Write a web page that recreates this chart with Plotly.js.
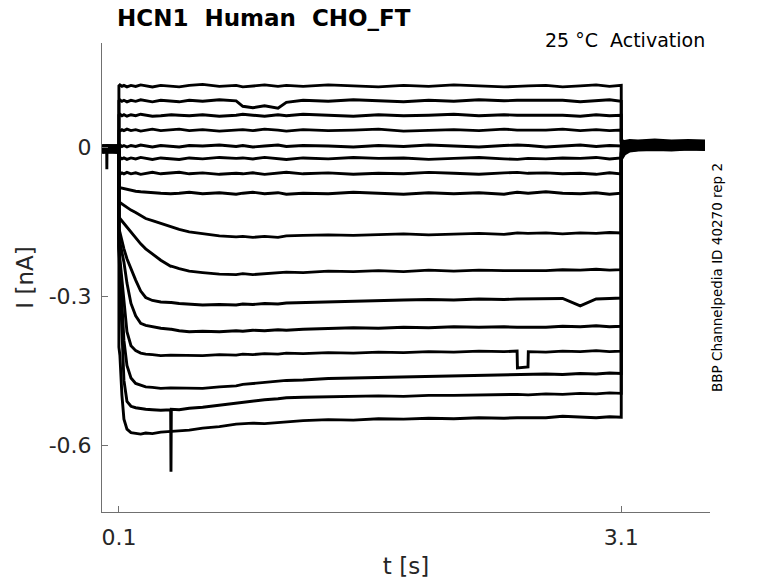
<!DOCTYPE html>
<html>
<head>
<meta charset="utf-8">
<script src="https://cdn.plot.ly/plotly-3.0.1.min.js"></script>
<style>html,body{margin:0;padding:0;background:#fff}#chart{width:778px;height:583px}</style>
</head>
<body>
<div id="chart"></div>
<script>
// time samples [s]: holding before the step, the step, and the tail after it
const tPre  = [0, 0.027, 0.028, 0.029, 0.1];
const tStep = [0.1, 0.106, 0.118, 0.13, 0.148, 0.172, 0.2, 0.23, 0.26, 0.3,
               0.35, 0.409, 0.411, 0.413, 0.46, 0.52, 0.6, 0.7, 0.8, 0.84,
               0.9, 0.97, 1.05, 1.1, 1.2, 1.35, 1.5, 1.65, 1.8, 1.95,
               2.1, 2.25, 2.4, 2.478, 2.48, 2.543, 2.545, 2.65, 2.75, 2.855,
               2.95, 3.03, 3.1];
const tTail = [3.1, 3.105, 3.12, 3.15, 3.2, 3.3, 3.4, 3.5, 3.6];

// current [nA] of each sweep: pre (5) | step (43) | tail (9)
const sweep01 = [0.002,0.003,0.002,0.003,0.002,
  0.123,0.125,0.122,0.124,0.121,0.124,0.122,0.125,0.123,0.121,
  0.124,0.122,0.122,0.122,0.121,0.124,0.126,0.122,0.124,0.121,
  0.123,0.125,0.122,0.124,0.122,0.125,0.123,0.121,0.124,0.122,
  0.125,0.123,0.121,0.122,0.122,0.123,0.123,0.124,0.121,0.123,
  0.125,0.122,0.124,
  0.012,0.013,0.011,0.013,0.012,0.014,0.012,0.013,0.012];
const sweep02 = [0.001,0.002,0.001,0.002,0.001,
  0.093,0.095,0.092,0.094,0.091,0.094,0.092,0.095,0.093,0.091,
  0.094,0.092,0.092,0.092,0.091,0.094,0.092,0.095,0.093,0.082,
  0.079,0.083,0.078,0.090,0.094,0.092,0.095,0.093,0.091,0.094,
  0.092,0.095,0.093,0.094,0.094,0.093,0.093,0.093,0.094,0.091,
  0.093,0.095,0.092,
  0.010,0.011,0.009,0.011,0.010,0.012,0.010,0.011,0.010];
const sweep03 = [0.000,0.001,0.000,0.001,0.000,
  0.064,0.066,0.063,0.065,0.062,0.065,0.063,0.066,0.064,0.062,
  0.063,0.065,0.065,0.065,0.064,0.063,0.065,0.062,0.064,0.066,
  0.064,0.062,0.065,0.063,0.066,0.064,0.062,0.065,0.063,0.064,
  0.066,0.063,0.065,0.064,0.064,0.065,0.065,0.065,0.064,0.062,
  0.065,0.063,0.064,
  0.008,0.009,0.007,0.009,0.008,0.010,0.008,0.009,0.008];
const sweep04 = [-0.001,0.000,-0.001,0.000,-0.001,
  0.034,0.032,0.035,0.033,0.036,0.033,0.035,0.032,0.034,0.036,
  0.033,0.035,0.035,0.035,0.036,0.033,0.035,0.032,0.034,0.035,
  0.033,0.036,0.034,0.032,0.035,0.033,0.034,0.036,0.032,0.034,
  0.035,0.033,0.036,0.034,0.034,0.035,0.035,0.034,0.036,0.033,
  0.035,0.033,0.034,
  0.006,0.007,0.005,0.007,0.006,0.008,0.006,0.007,0.006];
const sweep05 = [-0.002,-0.001,-0.045,-0.001,-0.002,
  0.002,0.004,0.001,0.003,0.000,0.003,0.001,0.004,0.002,0.000,
  0.003,0.001,0.001,0.001,0.000,0.003,0.002,0.004,0.001,0.003,
  0.000,0.002,0.004,0.001,0.003,0.002,0.000,0.003,0.001,0.004,
  0.002,0.000,0.003,0.004,0.004,0.003,0.003,0.000,0.002,0.004,
  0.001,0.003,0.002,
  0.004,0.005,0.003,0.005,0.004,0.006,0.004,0.005,0.004];
const sweep06 = [-0.003,-0.002,-0.003,-0.002,-0.003,
  -0.023,-0.021,-0.024,-0.022,-0.025,-0.022,-0.024,-0.021,-0.023,-0.025,
  -0.022,-0.024,-0.024,-0.024,-0.025,-0.022,-0.024,-0.021,-0.023,-0.022,
  -0.024,-0.021,-0.023,-0.025,-0.022,-0.024,-0.021,-0.023,-0.022,-0.025,
  -0.023,-0.021,-0.024,-0.025,-0.025,-0.023,-0.023,-0.024,-0.022,-0.023,
  -0.021,-0.024,-0.022,
  0.001,0.002,0.000,0.002,0.001,0.003,0.001,0.002,0.001];
const sweep07 = [-0.004,-0.003,-0.004,-0.003,-0.004,
  -0.053,-0.055,-0.052,-0.054,-0.051,-0.054,-0.052,-0.055,-0.053,-0.051,
  -0.054,-0.052,-0.052,-0.052,-0.051,-0.054,-0.052,-0.055,-0.053,-0.054,
  -0.052,-0.055,-0.053,-0.051,-0.054,-0.052,-0.055,-0.053,-0.054,-0.051,
  -0.053,-0.055,-0.052,-0.051,-0.051,-0.053,-0.053,-0.052,-0.054,-0.053,
  -0.055,-0.052,-0.054,
  -0.001,0.000,-0.002,0.000,-0.001,0.001,-0.001,0.000,-0.001];
const sweep08 = [-0.005,-0.004,-0.005,-0.004,-0.005,
  -0.080,-0.082,-0.083,-0.084,-0.086,-0.087,-0.089,-0.090,-0.091,-0.092,
  -0.093,-0.094,-0.094,-0.094,-0.093,-0.091,-0.094,-0.092,-0.095,-0.093,
  -0.091,-0.094,-0.092,-0.095,-0.093,-0.094,-0.091,-0.093,-0.095,-0.092,
  -0.094,-0.092,-0.095,-0.091,-0.091,-0.093,-0.093,-0.090,-0.093,-0.094,
  -0.092,-0.095,-0.093,
  -0.004,-0.003,-0.005,-0.003,-0.004,-0.002,-0.004,-0.003,-0.004];
const sweep09 = [-0.006,-0.005,-0.006,-0.005,-0.006,
  -0.111,-0.112,-0.115,-0.118,-0.122,-0.127,-0.132,-0.138,-0.144,-0.148,
  -0.154,-0.161,-0.161,-0.161,-0.166,-0.171,-0.175,-0.179,-0.181,-0.180,
  -0.182,-0.180,-0.182,-0.179,-0.178,-0.177,-0.178,-0.176,-0.175,-0.177,
  -0.175,-0.174,-0.176,-0.173,-0.173,-0.174,-0.174,-0.173,-0.175,-0.173,
  -0.174,-0.172,-0.173,
  -0.010,-0.008,-0.005,-0.002,0.000,0.002,0.001,0.003,0.002];
const sweep10 = [-0.007,-0.006,-0.007,-0.006,-0.007,
  -0.141,-0.144,-0.149,-0.154,-0.161,-0.170,-0.182,-0.195,-0.205,-0.216,
  -0.228,-0.240,-0.240,-0.240,-0.245,-0.250,-0.253,-0.256,-0.257,-0.255,
  -0.257,-0.255,-0.254,-0.252,-0.253,-0.250,-0.251,-0.249,-0.251,-0.248,
  -0.250,-0.248,-0.249,-0.249,-0.249,-0.248,-0.248,-0.249,-0.247,-0.248,
  -0.246,-0.248,-0.247,
  -0.012,-0.010,-0.006,-0.003,-0.001,0.001,0.000,0.002,0.001];
const sweep11 = [-0.008,-0.007,-0.008,-0.007,-0.008,
  -0.165,-0.172,-0.190,-0.205,-0.225,-0.246,-0.268,-0.290,-0.303,-0.309,
  -0.312,-0.313,-0.313,-0.313,-0.315,-0.316,-0.318,-0.317,-0.318,-0.316,
  -0.317,-0.315,-0.316,-0.314,-0.313,-0.311,-0.310,-0.309,-0.308,-0.307,
  -0.308,-0.306,-0.307,-0.306,-0.306,-0.305,-0.305,-0.306,-0.305,-0.320,
  -0.306,-0.305,-0.304,
  -0.014,-0.012,-0.007,-0.004,-0.002,0.000,-0.001,0.001,0.000];
const sweep12 = [-0.009,-0.008,-0.009,-0.008,-0.009,
  -0.185,-0.192,-0.210,-0.232,-0.274,-0.315,-0.340,-0.355,-0.359,-0.362,
  -0.365,-0.367,-0.367,-0.367,-0.370,-0.372,-0.371,-0.372,-0.370,-0.371,
  -0.369,-0.370,-0.368,-0.369,-0.367,-0.366,-0.364,-0.365,-0.363,-0.364,
  -0.362,-0.363,-0.362,-0.363,-0.363,-0.362,-0.362,-0.363,-0.361,-0.362,
  -0.360,-0.362,-0.361,
  -0.016,-0.014,-0.008,-0.005,-0.003,-0.001,-0.002,0.000,-0.001];
const sweep13 = [-0.010,-0.009,-0.010,-0.009,-0.010,
  -0.200,-0.225,-0.270,-0.320,-0.372,-0.400,-0.410,-0.415,-0.417,-0.418,
  -0.420,-0.419,-0.419,-0.419,-0.420,-0.419,-0.420,-0.418,-0.419,-0.417,
  -0.418,-0.416,-0.417,-0.415,-0.416,-0.414,-0.415,-0.413,-0.414,-0.412,
  -0.413,-0.411,-0.412,-0.411,-0.445,-0.443,-0.412,-0.413,-0.411,-0.412,
  -0.410,-0.412,-0.411,
  -0.018,-0.016,-0.010,-0.006,-0.004,-0.002,-0.003,-0.001,-0.002];
const sweep14 = [0.003,0.002,0.003,0.002,0.003,
  -0.205,-0.240,-0.320,-0.390,-0.440,-0.465,-0.476,-0.480,-0.483,-0.484,
  -0.486,-0.485,-0.485,-0.485,-0.486,-0.485,-0.486,-0.483,-0.481,-0.478,
  -0.476,-0.474,-0.472,-0.470,-0.469,-0.466,-0.465,-0.464,-0.463,-0.462,
  -0.461,-0.460,-0.459,-0.459,-0.459,-0.458,-0.458,-0.457,-0.458,-0.456,
  -0.457,-0.455,-0.456,
  -0.020,-0.018,-0.011,-0.006,-0.004,-0.003,-0.004,-0.002,-0.003];
const sweep15 = [-0.011,-0.010,-0.011,-0.010,-0.011,
  -0.200,-0.270,-0.390,-0.470,-0.512,-0.522,-0.525,-0.527,-0.528,-0.529,
  -0.530,-0.529,-0.654,-0.528,-0.529,-0.526,-0.524,-0.520,-0.515,-0.513,
  -0.511,-0.509,-0.507,-0.505,-0.504,-0.503,-0.503,-0.501,-0.502,-0.500,
  -0.500,-0.499,-0.499,-0.498,-0.498,-0.499,-0.499,-0.497,-0.498,-0.496,
  -0.497,-0.495,-0.496,
  -0.022,-0.020,-0.012,-0.007,-0.005,-0.004,-0.005,-0.003,-0.004];
const sweep16 = [-0.004,-0.005,-0.004,-0.005,-0.004,
  -0.403,-0.420,-0.500,-0.548,-0.568,-0.575,-0.577,-0.578,-0.576,-0.577,
  -0.574,-0.573,-0.573,-0.573,-0.571,-0.570,-0.566,-0.563,-0.558,-0.557,
  -0.556,-0.557,-0.555,-0.553,-0.551,-0.549,-0.550,-0.547,-0.548,-0.546,
  -0.547,-0.545,-0.546,-0.545,-0.545,-0.544,-0.544,-0.545,-0.542,-0.544,
  -0.545,-0.543,-0.544,
  -0.025,-0.022,-0.014,-0.008,-0.006,-0.005,-0.006,-0.004,-0.005];

const sweeps = [sweep01, sweep02, sweep03, sweep04, sweep05, sweep06, sweep07, sweep08,
                sweep09, sweep10, sweep11, sweep12, sweep13, sweep14, sweep15, sweep16];

const xTickVals = [0.1, 3.1];
const xTickText = ['0.1', '3.1'];
const yTickVals = [0, -0.3, -0.6];
const yTickText = ['0', '-0.3', '-0.6'];

const time = tPre.concat(tStep, tTail);
const FONT = 'DejaVu Sans, Liberation Sans, sans-serif';
const AX = '#707070';

const data = sweeps.map(function (s, i) {
  return {
    type: 'scatter', mode: 'lines', x: time, y: s,
    name: 'sweep ' + (i + 1),
    line: {color: '#000000', width: 2.9},
    hoverinfo: 'skip'
  };
});

const layout = {
  width: 778, height: 583,
  margin: {l: 102, r: 68, t: 43, b: 71},
  paper_bgcolor: '#ffffff', plot_bgcolor: '#ffffff',
  showlegend: false,
  font: {family: FONT, color: '#262626'},
  title: {
    text: '<b>HCN1\u00a0\u00a0Human\u00a0\u00a0CHO_FT</b>',
    font: {family: FONT, size: 23, color: '#000000'},
    xref: 'container', x: 117 / 778, xanchor: 'left',
    yref: 'container', y: 1 - 18 / 583, yanchor: 'middle'
  },
  xaxis: {
    range: [-0.001, 3.63], tickvals: xTickVals, ticktext: xTickText,
    ticks: 'inside', ticklen: 6, tickwidth: 1, tickcolor: AX,
    showline: true, linecolor: AX, linewidth: 1,
    showgrid: false, zeroline: false, automargin: false,
    tickfont: {family: FONT, size: 22, color: '#262626'},
    ticklabelstandoff: 6,
    title: {text: 't [s]', font: {family: FONT, size: 23, color: '#262626'}, standoff: 8}
  },
  yaxis: {
    range: [-0.7349, 0.2094], tickvals: yTickVals, ticktext: yTickText,
    ticks: 'inside', ticklen: 6, tickwidth: 1, tickcolor: AX,
    showline: true, linecolor: AX, linewidth: 1,
    showgrid: false, zeroline: false, automargin: false,
    tickfont: {family: FONT, size: 22, color: '#262626'},
    ticklabelstandoff: 5,
    title: {text: 'I [nA]', font: {family: FONT, size: 23, color: '#262626'}, standoff: 8}
  },
  annotations: [
    {text: '25 °C\u00a0\u00a0Activation', xref: 'paper', yref: 'paper',
     x: 0.995, y: 1.0064, xanchor: 'right', yanchor: 'middle', showarrow: false,
     font: {family: FONT, size: 19, color: '#000000'}},
    {text: 'BBP Channelpedia ID 40270 rep 2', xref: 'paper', yref: 'paper',
     x: 1.0107, y: 0.5, xanchor: 'center', yanchor: 'middle', textangle: -90, showarrow: false,
     font: {family: FONT, size: 13.5, color: '#000000'}}
  ]
};

Plotly.newPlot('chart', data, layout, {staticPlot: true, displayModeBar: false});
</script>
</body>
</html>
